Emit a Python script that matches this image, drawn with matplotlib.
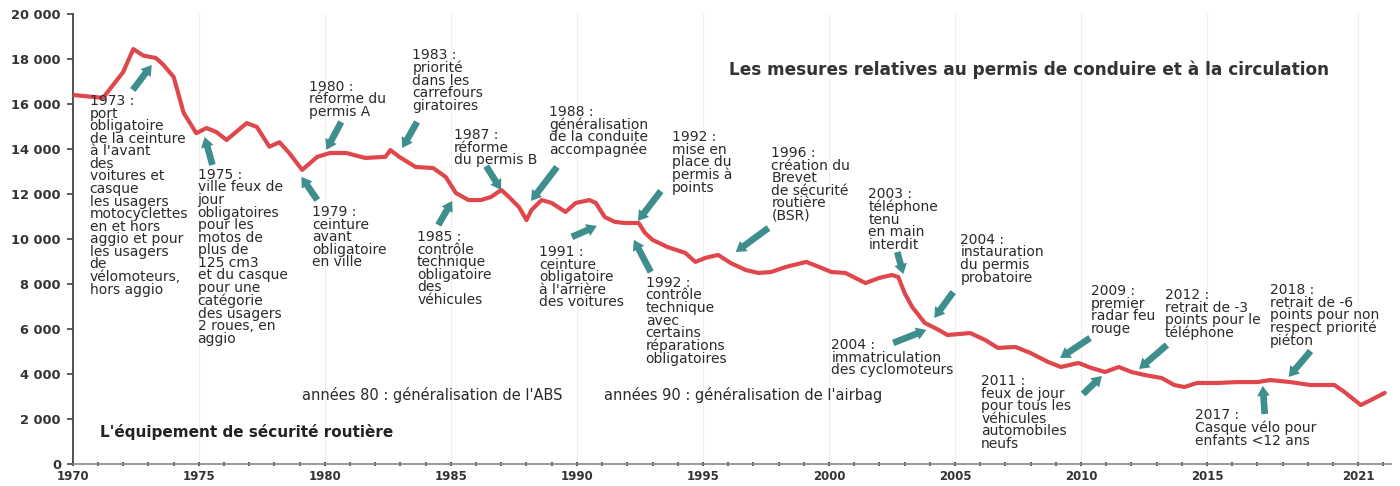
import matplotlib.pyplot as plt
from matplotlib.ticker import FuncFormatter

# Road deaths in France (rolling 12 months)
years = [1970.0, 1971.2, 1972.0, 1972.4, 1972.8, 1973.3, 1973.6, 1974.0, 1974.4, 1974.9,
         1975.3, 1975.7, 1976.1, 1976.9, 1977.3, 1977.8, 1978.2, 1978.6, 1979.1, 1979.7,
         1980.2, 1980.85, 1981.6, 1982.4, 1982.6, 1982.95, 1983.6, 1984.3, 1984.8, 1985.2,
         1985.7, 1986.2, 1986.6, 1987.0, 1987.3, 1987.7, 1988.0, 1988.2, 1988.6, 1989.0,
         1989.55, 1989.95, 1990.5, 1990.75, 1991.1, 1991.5, 1991.9, 1992.45, 1992.7, 1993.0,
         1993.6, 1994.3, 1994.7, 1995.1, 1995.6, 1996.1, 1996.7, 1997.2, 1997.7, 1998.3,
         1999.1, 1999.6, 2000.1, 2000.65, 2001.45, 2002.0, 2002.5, 2002.75, 2003.0, 2003.3,
         2003.8, 2004.35, 2004.7, 2005.6, 2006.2, 2006.7, 2007.4, 2008.0, 2008.7, 2009.2,
         2009.9, 2010.4, 2010.95, 2011.5, 2012.0, 2012.5, 2013.2, 2013.7, 2014.1, 2014.6,
         2015.4, 2016.2, 2017.0, 2017.5, 2018.3, 2019.1, 2020.05, 2020.45, 2021.1, 2021.5,
         2022.05]
deaths = [16400, 16270, 17420, 18440, 18150, 18040, 17730, 17200, 15600, 14700,
          14930, 14750, 14400, 15150, 14980, 14100, 14300, 13800, 13070, 13650,
          13820, 13820, 13600, 13650, 13950, 13650, 13200, 13150, 12750, 12040,
          11730, 11730, 11870, 12180, 11870, 11420, 10840, 11290, 11730, 11600,
          11200, 11600, 11730, 11600, 10980, 10760, 10710, 10710, 10270, 9960,
          9640, 9380, 8980, 9160, 9290, 8930, 8620, 8490, 8530, 8760,
          8980, 8760, 8530, 8490, 8040, 8270, 8400, 8310, 7600, 6980,
          6270, 5960, 5730, 5820, 5510, 5160, 5200, 4930, 4530, 4310,
          4490, 4270, 4090, 4310, 4090, 3960, 3820, 3510, 3420, 3600,
          3600, 3640, 3640, 3730, 3640, 3510, 3510, 3200, 2620, 2840,
          3160]

xtick_pos = [1970, 1975, 1980, 1985, 1990, 1995, 2000, 2005, 2010, 2015, 2021]
xtick_labels = ["1970", "1975", "1980", "1985", "1990", "1995", "2000", "2005", "2010", "2015", "2021"]

# annotation texts
notes = [
    "1973 :\nport\nobligatoire\nde la ceinture\nà l'avant\ndes\nvoitures et\ncasque\nles usagers\nmotocyclettes\nen et hors\naggio et pour\nles usagers\nde\nvélomoteurs,\nhors aggio",
    "1975 :\nville feux de\njour\nobligatoires\npour les\nmotos de\nplus de\n125 cm3\net du casque\npour une\ncatégorie\ndes usagers\n2 roues, en\naggio",
    "1979 :\nceinture\navant\nobligatoire\nen ville",
    "1980 :\nréforme du\npermis A",
    "1983 :\npriorité\ndans les\ncarrefours\ngiratoires",
    "1985 :\ncontrôle\ntechnique\nobligatoire\ndes\nvéhicules",
    "1987 :\nréforme\ndu permis B",
    "1988 :\ngénéralisation\nde la conduite\naccompagnée",
    "1992 :\nmise en\nplace du\npermis à\npoints",
    "1996 :\ncréation du\nBrevet\nde sécurité\nroutière\n(BSR)",
    "2003 :\ntéléphone\ntenu\nen main\ninterdit",
    "1991 :\nceinture\nobligatoire\nà l'arrière\ndes voitures",
    "1992 :\ncontrôle\ntechnique\navec\ncertains\nréparations\nobligatoires",
    "2004 :\nimmatriculation\ndes cyclomoteurs",
    "2004 :\ninstauration\ndu permis\nprobatoire",
    "2009 :\npremier\nradar feu\nrouge",
    "2011 :\nfeux de jour\npour tous les\nvéhicules\nautomobiles\nneufs",
    "2012 :\nretrait de -3\npoints pour le\ntéléphone",
    "2017 :\nCasque vélo pour\nenfants <12 ans",
    "2018 :\nretrait de -6\npoints pour non\nrespect priorité\npiéton",
]
# top-left corner of each note (year, value)
note_xy = [
    (1970.67, 16440), (1974.95, 13160), (1979.5, 11510), (1979.39, 17070),
    (1983.47, 18490), (1983.66, 10400), (1985.13, 14930), (1988.89, 15960),
    (1993.76, 14840), (1997.72, 14130), (2001.56, 12310), (1988.5, 9730),
    (1992.73, 8360), (2000.1, 5600), (2005.21, 10270), (2010.4, 8000),
    (2006.04, 4000), (2013.33, 7820), (2014.51, 2490), (2017.49, 8040),
]
# arrows: (tail, head)
arrows = [
    ((1972.38, 16620), (1973.13, 17730)),
    ((1975.54, 13290), (1975.23, 14530)),
    ((1979.7, 11730), (1979.07, 12760)),
    ((1980.65, 15200), (1980.06, 13960)),
    ((1983.66, 15200), (1983.07, 14040)),
    ((1984.5, 10620), (1985.05, 11690)),
    ((1986.4, 13240), (1986.99, 12180)),
    ((1989.21, 13200), (1988.18, 11690)),
    ((1993.33, 12130), (1992.42, 10800)),
    ((1997.6, 10490), (1996.3, 9420)),
    ((2002.71, 9420), (2002.95, 8440)),
    ((1989.8, 10090), (1990.79, 10580)),
    ((1992.93, 8530), (1992.26, 9960)),
    ((2002.55, 5380), (2003.86, 5960)),
    ((2004.93, 7640), (2004.18, 6490)),
    ((2010.36, 5600), (2009.17, 4710)),
    ((2010.08, 3110), (2010.83, 3910)),
    ((2013.41, 5290), (2012.3, 4220)),
    ((2017.29, 2220), (2017.21, 3470)),
    ((2019.11, 5020), (2018.24, 3870)),
]

red = "#e0474c"
teal = "#3e8e8e"
ink = "#2a2a2a"

fig = plt.figure(figsize=(14, 4.86), dpi=100)
ax = fig.add_axes([0.052, 0.0453, 0.9416, 0.926])

ax.plot(years, deaths, color=red, lw=3.0, solid_capstyle="round", zorder=3)

for txt, (x, y) in zip(notes, note_xy):
    ax.text(x, y, txt, ha="left", va="top", fontsize=10, linespacing=0.87,
            color=ink, zorder=4)

for tail, head in arrows:
    ax.annotate("", xy=head, xytext=tail,
                arrowprops=dict(arrowstyle="simple,head_length=0.9,head_width=1.15,tail_width=0.6",
                                fc=teal, ec="none", mutation_scale=8,
                                shrinkA=0, shrinkB=0), zorder=5)

ax.text(1996.02, 17510, "Les mesures relatives au permis de conduire et à la circulation",
        fontsize=12.2, fontweight="bold", color="#333333", va="center", ha="left")
ax.text(1971.07, 1420, "L'équipement de sécurité routière",
        fontsize=11, fontweight="bold", color="#222222", va="center", ha="left")
ax.text(1979.11, 3070, "années 80 : généralisation de l'ABS",
        fontsize=10.5, color=ink, va="center", ha="left")
ax.text(1991.07, 3070, "années 90 : généralisation de l'airbag",
        fontsize=10.5, color=ink, va="center", ha="left")

ax.set_xlim(1970, 2022.3)
ax.set_ylim(0, 20000)
ax.set_yticks(range(0, 20001, 2000))
ax.yaxis.set_major_formatter(FuncFormatter(lambda v, p: f"{int(v):,}".replace(",", " ")))
ax.set_xticks(xtick_pos)
ax.set_xticklabels(xtick_labels)
ax.set_xticks(range(1970, 2023), minor=True)

for s in ["top", "right"]:
    ax.spines[s].set_visible(False)
ax.spines["left"].set_color("#444444")
ax.spines["left"].set_linewidth(1.3)
ax.spines["bottom"].set_color("#888888")
ax.spines["bottom"].set_linewidth(1.2)

ax.tick_params(axis="y", length=4.5, width=1.2, color="#444444", pad=4,
               labelsize=9.4, labelcolor="#333333")
ax.tick_params(axis="x", which="major", length=3, width=1.5, color="#555555",
               direction="inout", pad=3, labelsize=8.5, labelcolor="#333333")
ax.tick_params(axis="x", which="minor", length=2.5, width=1.5, color="#666666",
               direction="inout")
for lab in ax.get_yticklabels() + ax.get_xticklabels():
    lab.set_fontweight("bold")

ax.grid(axis="x", which="major", color="#eeeeee", lw=0.8)
ax.set_axisbelow(True)

fig.savefig("out.png", dpi=100)
